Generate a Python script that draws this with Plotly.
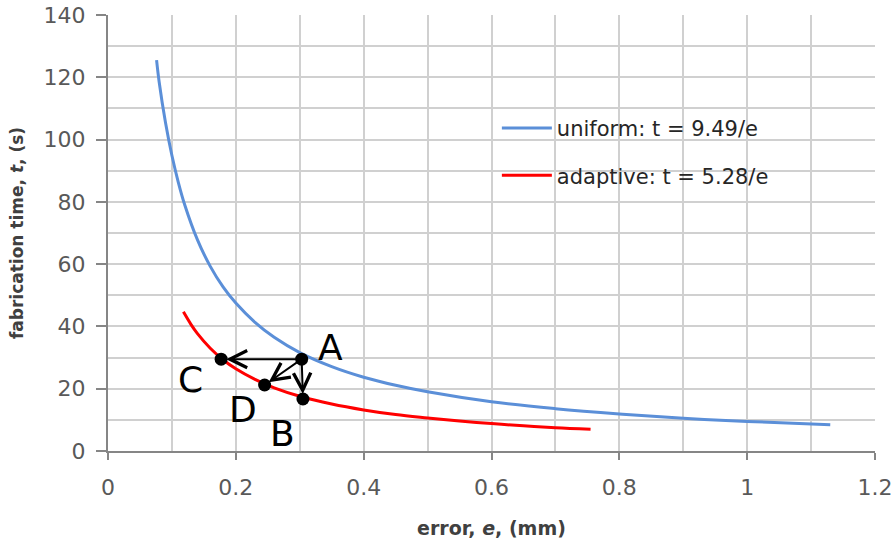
import plotly.graph_objects as go

# uniform strategy, t = 9.49/e
uniform_e = [0.076, 0.08, 0.09, 0.10, 0.11, 0.12, 0.14, 0.16, 0.18, 0.20, 0.23, 0.26,
             0.30, 0.35, 0.40, 0.45, 0.50, 0.60, 0.70, 0.80, 0.90, 1.00, 1.13]
uniform_t = [125.5, 118.6, 105.4, 94.9, 86.3, 79.1, 67.8, 59.3, 52.7, 47.5, 41.3, 36.5,
             31.6, 27.1, 23.7, 21.1, 19.0, 15.8, 13.6, 11.9, 10.5, 9.5, 8.4]

# adaptive strategy, t = 5.28/e
adaptive_e = [0.118, 0.13, 0.14, 0.16, 0.18, 0.20, 0.23, 0.26, 0.30, 0.35, 0.40, 0.45,
              0.50, 0.55, 0.60, 0.65, 0.70, 0.755]
adaptive_t = [44.7, 40.6, 37.7, 33.0, 29.3, 26.4, 23.0, 20.3, 17.6, 15.1, 13.2, 11.7,
              10.6, 9.6, 8.8, 8.1, 7.5, 7.0]

# labelled points
point_names = ["A", "B", "C", "D"]
point_e = [0.303, 0.305, 0.177, 0.245]
point_t = [29.5, 16.7, 29.5, 21.2]

# arrows: from A to these
arrow_targets = ["C", "B", "D"]

# label offsets (pixels) relative to each point
label_shift = {"A": (29, 12), "B": (-20, -34), "C": (-31, -20), "D": (-22, -25)}

FONT = "DejaVu Sans"
fig = go.Figure()

fig.add_trace(go.Scatter(x=uniform_e, y=uniform_t, mode="lines", line_shape="spline",
                         line=dict(color="#5b8fd8", width=3),
                         name="uniform: t = 9.49/e", legendgroup="u"))
fig.add_trace(go.Scatter(x=adaptive_e, y=adaptive_t, mode="lines", line_shape="spline",
                         line=dict(color="#ff0000", width=3),
                         name="adaptive: t = 5.28/e", legendgroup="a"))
fig.add_trace(go.Scatter(x=point_e, y=point_t, mode="markers",
                         marker=dict(color="black", size=13), showlegend=False,
                         hoverinfo="skip"))

pts = {n: (e, t) for n, e, t in zip(point_names, point_e, point_t)}
ax0, ay0 = pts["A"]
for tgt in arrow_targets:
    tx, ty = pts[tgt]
    fig.add_annotation(x=tx, y=ty, ax=ax0, ay=ay0, xref="x", yref="y",
                       axref="x", ayref="y", showarrow=True, arrowhead=5,
                       arrowsize=1.7, arrowwidth=2, arrowcolor="black",
                       standoff=5, text="")
for n in point_names:
    dx, dy = label_shift[n]
    fig.add_annotation(x=pts[n][0], y=pts[n][1], xref="x", yref="y", text=n,
                       showarrow=False, xshift=dx, yshift=dy,
                       font=dict(family=FONT, size=36, color="black"))

# white legend panel covering the gridlines
fig.add_shape(type="rect", xref="paper", yref="paper", x0=0.482, x1=0.896,
              y0=0.576, y1=0.794, fillcolor="white", line=dict(width=0),
              layer="between")

axis_common = dict(showline=True, linecolor="#868686", linewidth=2,
                   gridcolor="#d0d0d0", gridwidth=1.5, ticks="outside",
                   tickcolor="#868686", tickwidth=1.5, automargin=False,
                   ticklabeloverflow="allow",
                   tickfont=dict(family=FONT, size=22, color="#595959"),
                   zeroline=False, mirror=False)

fig.update_xaxes(range=[0, 1.2], dtick=0.2, tick0=0, ticklen=7, ticklabelstandoff=9,
                 minor=dict(dtick=0.1, showgrid=True, gridcolor="#d0d0d0", gridwidth=1.5),
                 title=dict(text="<b>error, <i>e</i>, (mm)</b>", standoff=22,
                            font=dict(family=FONT, size=19, color="#404040")),
                 **axis_common)
fig.update_yaxes(range=[0, 140.02], dtick=20, tick0=0, ticklen=10, ticklabelstandoff=6,
                 minor=dict(dtick=10, showgrid=True, gridcolor="#d0d0d0", gridwidth=1.5),
                 title=dict(text="<b>fabrication time, <i>t</i>, (s)</b>", standoff=16,
                            font=dict(family=FONT, size=17, color="#404040")),
                 **axis_common)

fig.update_layout(
    width=894, height=539,
    margin=dict(l=108, r=19, t=15, b=88),
    paper_bgcolor="white", plot_bgcolor="white",
    legend=dict(x=0.507, y=0.787, xanchor="left", yanchor="top",
                bgcolor="rgba(255,255,255,0)", borderwidth=0, traceorder="grouped",
                tracegroupgap=17, itemwidth=50,
                font=dict(family=FONT, size=21, color="#262626")),
)

fig.write_html("out.html", config={"displayModeBar": False},
               post_script="document.body.style.margin='0';")
